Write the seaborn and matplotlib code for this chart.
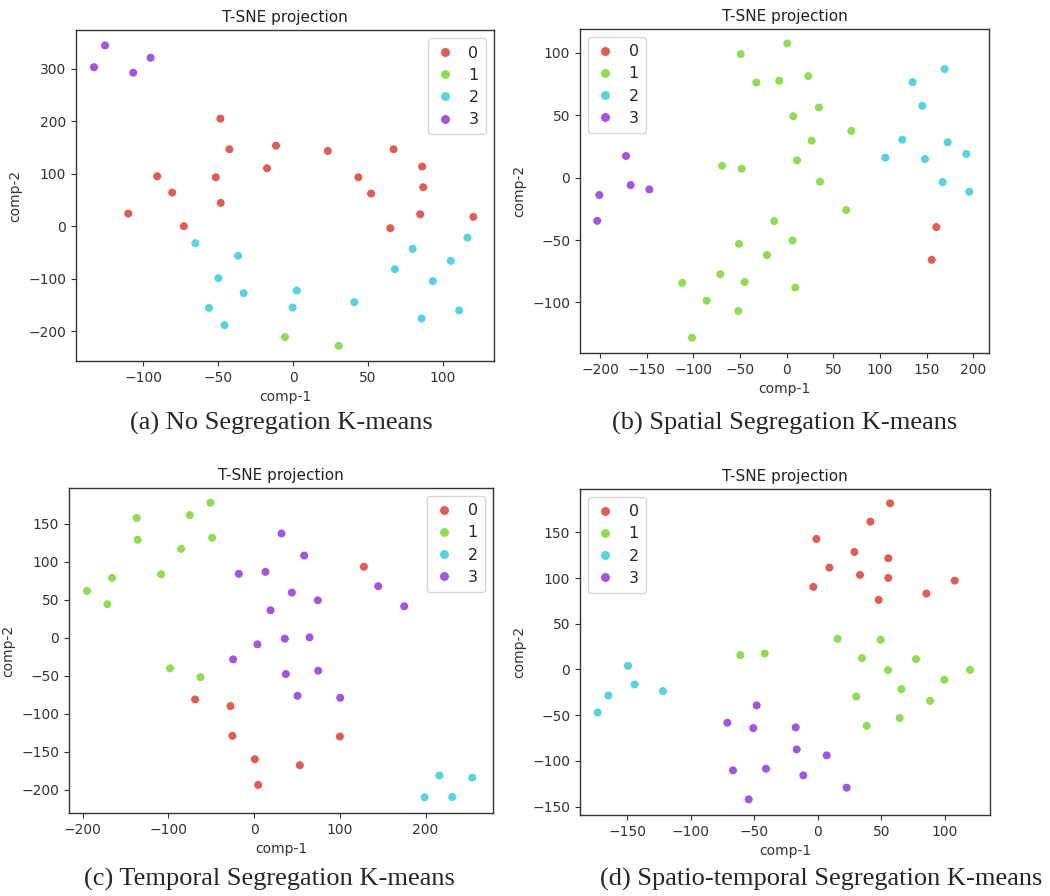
import numpy as np
import pandas as pd
import matplotlib
matplotlib.use("Agg")
import matplotlib.pyplot as plt
import seaborn as sns

# ---------------- data ----------------
# (a) No Segregation K-means
a_x = [-125.6, -133, -106.8, -95.2,
       -48.6, -42.6, -11.5, 23.1, 67, 86.1, 86.8, 84.8, 120.3, 64.8, 52, 43.5, -17.5, -51.7, -48.4, -90.8, -80.8, -110.1, -73,
       -65.3, -36.8, -49.9, -33.1, -56.2, -45.9, -0.4, 2.4, 40.8, 67.9, 79.7, 116.3, 105.2, 93.2, 110.8, 85.7,
       -5.5, 30.4]
a_y = [344.5, 303, 292.5, 321,
       205, 146.6, 153.5, 143.4, 146.6, 113.6, 74.2, 22.8, 17.8, -3.8, 62.2, 93.3, 110.4, 93.3, 44.4, 95.2, 64.1, 24.1, 0,
       -32.4, -56.5, -99, -127.5, -155.5, -188.5, -154.8, -122.5, -144.7, -81.9, -43.1, -21.6, -66, -104.7, -160.5, -175.8,
       -211.3, -227.8]
a_c = [3] * 4 + [0] * 19 + [2] * 16 + [1] * 2

# (b) Spatial Segregation K-means
b_x = [-172.1, -200.7, -202.9, -167.1, -147.1,
       0.7, -49.3, -32.5, -7.9, 23.2, 34.6, 7.1, 69.3, 26.8, 11.1, 35.7, -69.3, -48.2, 63.9, -13.2, 6.4, -51.1, -21.1,
       -71.1, -45, 9.3, -111.8, -85.7, -51.8, -101.4,
       169.3, 135, 145.4, 123.9, 172.5, 105.7, 148.2, 192.5, 167.1, 195.7,
       160.4, 155.4]
b_y = [17.4, -13.9, -34.6, -5.9, -9.4,
       107.7, 99.1, 76.3, 77.7, 81.4, 56.3, 49.3, 37.5, 29.7, 13.9, -3.2, 9.6, 7.2, -26, -34.8, -50.4, -53, -62.1,
       -77.4, -83.6, -88.1, -84.4, -98.6, -106.9, -128.3,
       87.1, 76.6, 57.6, 30.5, 28.4, 16.1, 15, 19, -3.5, -11.3,
       -39.6, -65.9]
b_c = [3] * 5 + [1] * 25 + [2] * 10 + [0] * 2

# (c) Temporal Segregation K-means
c_x = [-51, -75.1, -137, -135.8, -49, -85.2, -108.6, -165.8, -195, -171.2, -98.1, -62.6,
       31.9, 58.4, -17.9, 13.2, 44, 74.3, 19.1, 144.7, 175.1, 35.8, 64.6, 3.9, -24.5, 37, 74.7, 50.6, 100.4,
       128, -68.9, -27.6, -25.3, 100, 0.8, 53.3, 4.7,
       216, 254.5, 198.8, 231.1]
c_y = [177.6, 161.3, 157.4, 128.8, 131.4, 116.9, 83.5, 78.7, 61.5, 44, -40.4, -51.9,
       137.1, 108.1, 84, 86.6, 59.3, 49.2, 36, 67.7, 41.3, -1.3, 0.4, -8.8, -28.6, -47.9, -43.5, -76.5, -79.1,
       93.2, -81.3, -90.1, -129.2, -130.1, -160, -167.9, -193.8,
       -181.5, -184.2, -210.1, -209.7]
c_c = [1] * 12 + [3] * 17 + [0] * 8 + [2] * 4

# (d) Spatio-temporal Segregation K-means
d_x = [57, 41.5, -1, 28.9, 55.6, 9.2, 33.3, 55.6, -3.4, 107.9, 48, 85.6,
       15.7, 49.6, 34.9, 77.4, 55.4, 119.9, 99.7, 65.9, 30.4, 88.5, 64.6, 38.6, -60.9, -41.7,
       -149.3, -144.1, -164.8, -121.8, -173.2,
       -48, -71.1, -50.7, -17.3, -16.5, 7.1, -66.7, -40.7, -11.3, 22.8, -54.3]
d_y = [181.7, 161.6, 142.7, 128.5, 121.6, 111.4, 103.4, 100.1, 90.3, 97.2, 76.1, 83,
       33.5, 32.4, 12.4, 11.3, -0.7, -0.4, -11.3, -21.5, -29.5, -34.2, -53.1, -61.5, 15.7, 17.5,
       4, -16.4, -28.4, -23.7, -47,
       -39.3, -58.2, -64.1, -63.3, -87.4, -93.9, -110.3, -108.5, -115.8, -129.2, -142]
d_c = [0] * 12 + [1] * 14 + [2] * 5 + [3] * 11

captions = ["(a) No Segregation K-means", "(b) Spatial Segregation K-means",
            "(c) Temporal Segregation K-means", "(d) Spatio-temporal Segregation K-means"]

# ---------------- plot ----------------
sns.set_style("ticks")
plt.rcParams["font.family"] = ["DejaVu Sans"]

fig = plt.figure(figsize=(10.5, 8.96), dpi=100)
palette = sns.color_palette("hls", 4)

panels = [
    (a_x, a_y, a_c, [0.0724, 0.597, 0.398, 0.369], (-145, 134), (-257, 373), "upper right"),
    (b_x, b_y, b_c, [0.5524, 0.606, 0.3895, 0.3616], (-221.4, 216.8), (-140.6, 119.2), "upper left"),
    (c_x, c_y, c_c, [0.0657, 0.0926, 0.4038, 0.3627], (-216, 278.6), (-230.8, 196.9), "upper right"),
    (d_x, d_y, d_c, [0.5524, 0.0904, 0.3905, 0.3638], (-187.1, 135.7), (-159.1, 197.3), "upper left"),
]
cap_pos = [(0.268, 1 - 430 / 896), (0.747, 1 - 430 / 896),
           (0.257, 1 - 886 / 896), (0.782, 1 - 886 / 896)]

for i, (xs, ys, cs, rect, xl, yl, loc) in enumerate(panels):
    ax = fig.add_axes(rect)
    df = pd.DataFrame({"comp-1": xs, "comp-2": ys, "y": cs})
    sns.scatterplot(data=df, x="comp-1", y="comp-2", hue="y", hue_order=[0, 1, 2, 3],
                    palette=palette, s=40, ax=ax, legend="full")
    ax.set_xlim(*xl)
    ax.set_ylim(*yl)
    ax.set_title("T-SNE projection", fontsize=11, color="#222222")
    ax.set_xlabel("comp-1", fontsize=10, color="#333333")
    ax.set_ylabel("comp-2", fontsize=10, color="#333333")
    ax.tick_params(labelsize=10, colors="#333333", length=3.5)
    for sp in ax.spines.values():
        sp.set_color("#333333")
        sp.set_linewidth(1.0)
    h, l = ax.get_legend_handles_labels()
    ax.legend(h, l, loc=loc, fontsize=11.5, markerscale=1.1, frameon=True,
              handlelength=1.2, handletextpad=0.9, borderpad=0.45, labelspacing=0.45)
    fig.text(cap_pos[i][0], cap_pos[i][1], captions[i], ha="center", va="baseline",
             fontsize=19, family=["Liberation Serif", "DejaVu Serif"])

fig.savefig("out.png", dpi=100)
